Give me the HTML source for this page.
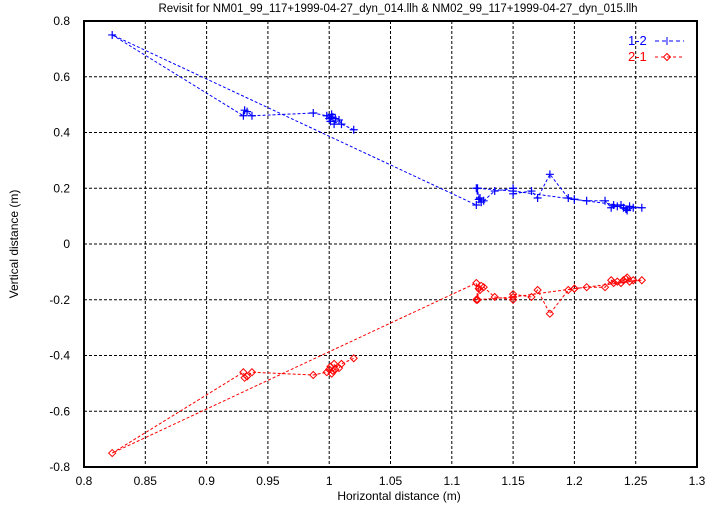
<!DOCTYPE html>
<html><head><meta charset="utf-8"><style>
body{margin:0;background:#fff}
svg{display:block;font-family:"Liberation Sans",sans-serif}
</style></head><body>
<svg id="s" width="721" height="505" xmlns="http://www.w3.org/2000/svg">
<rect width="721" height="505" fill="#fff"/>
<text x="398" y="12" font-size="11.5" text-anchor="middle">Revisit for NM01_99_117+1999-04-27_dyn_014.llh &amp; NM02_99_117+1999-04-27_dyn_015.llh</text>
<text x="399" y="500" font-size="12" text-anchor="middle">Horizontal distance (m)</text>
<text transform="translate(18,244) rotate(-90)" font-size="12" text-anchor="middle">Vertical distance (m)</text>
<g id="grid" stroke="#000" stroke-width="1" stroke-dasharray="3,2"></g>
<g id="ticks" font-size="12"></g>
<g id="data"></g>
<rect x="84" y="21" width="613" height="446" fill="none" stroke="#000" stroke-width="2"/>
<text x="628" y="45" font-size="13" fill="#00f">1-2</text>
<line x1="655" y1="41" x2="684" y2="41" stroke="#00f" stroke-dasharray="4,3"/>
<text x="628" y="61" font-size="13" fill="#f00">2-1</text>
<line x1="655" y1="57" x2="684" y2="57" stroke="#f00" stroke-dasharray="3,3"/>
</svg>
<script>
var NS="http://www.w3.org/2000/svg";
function X(x){return 84+(x-0.8)*1226}
function Y(y){return 244-y*278.75}
function el(p,t,a,txt){var e=document.createElementNS(NS,t);for(var k in a)e.setAttribute(k,a[k]);if(txt!=null)e.textContent=txt;p.appendChild(e);return e}
var g=document.getElementById("grid"),tk=document.getElementById("ticks"),d=document.getElementById("data");
var xl=["0.8","0.85","0.9","0.95","1","1.05","1.1","1.15","1.2","1.25","1.3"];
for(var i=0;i<11;i++){var x=84+i*61.3;if(i>0&&i<10)el(g,"line",{x1:x,y1:21,x2:x,y2:467});el(tk,"text",{x:x,y:485,"text-anchor":"middle"},xl[i]);}
var yl=["0.8","0.6","0.4","0.2","0","-0.2","-0.4","-0.6","-0.8"];
for(var j=0;j<9;j++){var y=21+j*55.75;if(j>0&&j<8)el(g,"line",{x1:84,y1:y,x2:697,y2:y});el(tk,"text",{x:70,y:y+4,"text-anchor":"end"},yl[j]);}
var pts=[[1.02,0.41],[1.01,0.43],[1.008,0.445],[1.004,0.43],[1.005,0.45],[1.003,0.455],[1.001,0.44],[1.002,0.465],[1.0,0.45],[0.998,0.46],[0.987,0.47],[0.937,0.46],[0.933,0.475],[0.931,0.48],[0.93,0.46],[0.823,0.75],
[1.12,0.14],[1.121,0.2],[1.122,0.16],[1.124,0.15],[1.123,0.165],[1.126,0.155],[1.135,0.19],[1.15,0.2],[1.15,0.18],[1.165,0.19],[1.17,0.165],[1.18,0.25],[1.195,0.165],[1.2,0.16],[1.21,0.155],[1.225,0.155],[1.23,0.13],[1.232,0.14],[1.235,0.135],[1.238,0.14],[1.24,0.13],[1.242,0.125],[1.245,0.135],[1.243,0.12],[1.248,0.13],[1.255,0.13],[1.2,0.16],[1.15,0.19],[1.12,0.2]];
function series(col,sign,marker){
 var s="";pts.forEach(function(p,i){s+=(i?"L":"M")+X(p[0]).toFixed(1)+","+Y(sign*p[1]).toFixed(1)});
 el(d,"path",{d:s,fill:"none",stroke:col,"stroke-width":1,"stroke-dasharray":"3,2"});
 pts.forEach(function(p){var x=X(p[0]),y=Y(sign*p[1]);
  if(marker=="+")el(d,"path",{d:"M"+(x-4)+","+y+"h8M"+x+","+(y-4)+"v8",stroke:col,"stroke-width":1.2});
  else el(d,"path",{d:"M"+x+","+(y-3.5)+"l3.5,3.5l-3.5,3.5l-3.5,-3.5z",fill:"none",stroke:col,"stroke-width":1});});
}
series("#00f",1,"+");series("#f00",-1,"d");
el(d,"path",{d:"M667,37v8",stroke:"#00f"});
el(d,"path",{d:"M667,53.5l3.5,3.5l-3.5,3.5l-3.5,-3.5z",fill:"none",stroke:"#f00"});
</script>
</body></html>
